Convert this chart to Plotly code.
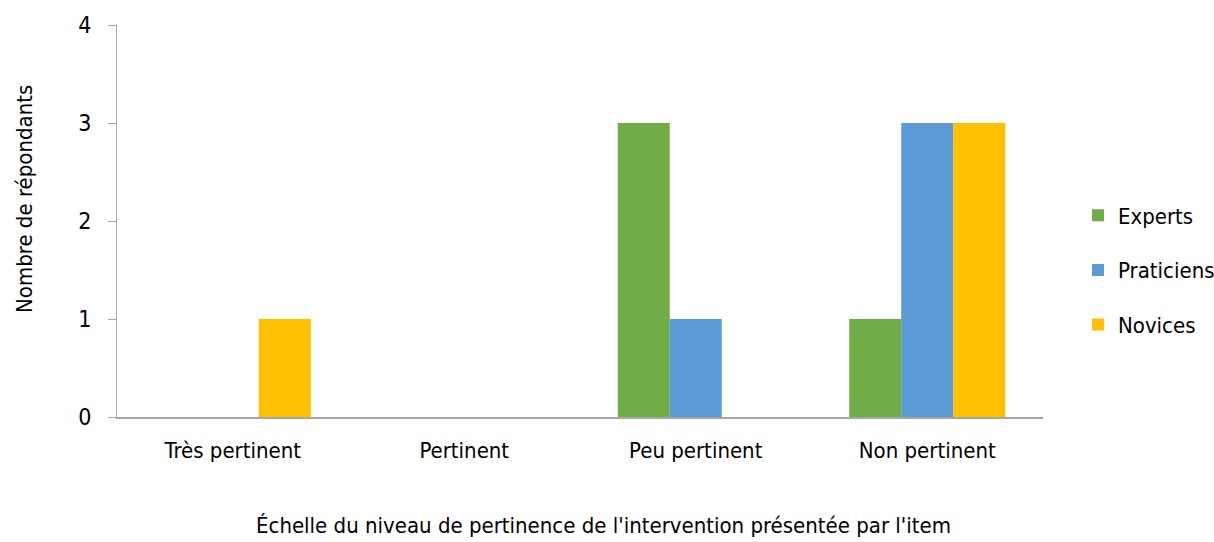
import plotly.graph_objects as go

# Répartition des réponses par niveau de pertinence
categories = ["Très pertinent", "Pertinent", "Peu pertinent", "Non pertinent"]
experts = [0, 0, 3, 1]
praticiens = [0, 0, 1, 3]
novices = [1, 0, 0, 3]
y_ticks = [0, 1, 2, 3, 4]

FONT = "DejaVu Sans Condensed, Liberation Sans, sans-serif"
AXIS_GREY = "#a6a6a6"

series = [
    ("Experts", experts, "#70ad47"),
    ("Praticiens", praticiens, "#5b9bd5"),
    ("Novices", novices, "#ffc000"),
]

fig = go.Figure()
for name, values, color in series:
    fig.add_trace(go.Bar(
        name=name,
        x=categories,
        y=values,
        marker=dict(color=color, line=dict(width=0)),
        legendgroup=name,
    ))

W, H = 1214, 542
ml, mr, mt, mb = 117, 171, 25, 125
fig.update_layout(
    width=W, height=H,
    margin=dict(l=ml, r=mr, t=mt, b=mb, autoexpand=False),
    paper_bgcolor="white",
    plot_bgcolor="white",
    barmode="group",
    bargap=0.326,
    bargroupgap=0,
    font=dict(family=FONT, size=22, color="black"),
    legend=dict(
        xref="container", yref="container",
        x=1078 / W, y=1 - 270 / H, xanchor="left", yanchor="middle",
        font=dict(family=FONT, size=22),
        tracegroupgap=23,
        itemwidth=30,
    ),
    xaxis=dict(
        showline=True, linecolor=AXIS_GREY, linewidth=1.5,
        ticks="", showgrid=False,
        ticklabelstandoff=13,
        tickfont=dict(family=FONT, size=22),
    ),
    yaxis=dict(
        range=[0, 4],
        tickvals=y_ticks,
        showline=True, linecolor=AXIS_GREY, linewidth=1,
        ticks="outside", ticklen=8, tickcolor=AXIS_GREY,
        showgrid=False, zeroline=False,
        ticklabelstandoff=12,
        tickfont=dict(family=FONT, size=23),
    ),
    annotations=[
        dict(
            text="Échelle du niveau de pertinence de l'intervention présentée par l'item",
            xref="paper", yref="paper",
            x=(603 - ml) / (W - ml - mr), y=0,
            yshift=-108, xanchor="center", yanchor="middle",
            showarrow=False, font=dict(family=FONT, size=22),
        ),
        dict(
            text="Nombre de répondants",
            xref="paper", yref="paper",
            x=0, y=(417 - 199) / (H - mt - mb),
            xshift=-93, xanchor="center", yanchor="middle",
            textangle=-90,
            showarrow=False, font=dict(family=FONT, size=22),
        ),
    ],
)

fig.write_html("out.html")
